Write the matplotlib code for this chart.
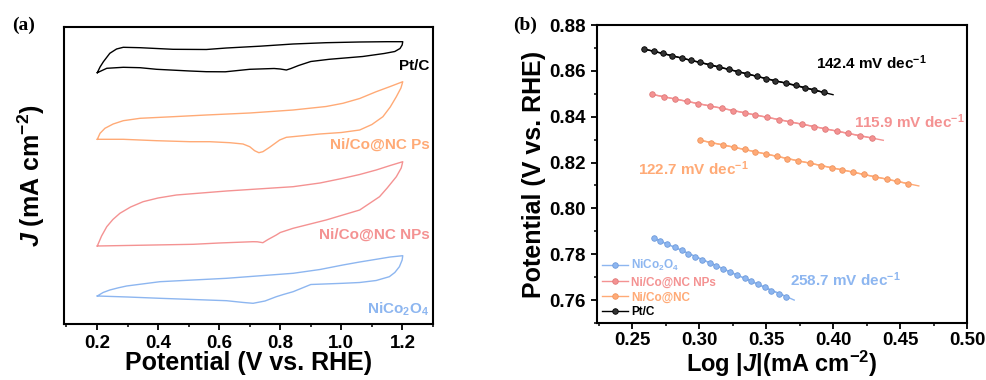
import matplotlib
matplotlib.use("Agg")
import matplotlib.pyplot as plt
from matplotlib.ticker import MultipleLocator

plt.rcParams['font.family'] = ['Liberation Sans', 'DejaVu Sans']
plt.rcParams['font.weight'] = 'bold'
plt.rcParams['mathtext.fontset'] = 'custom'
plt.rcParams['mathtext.rm'] = 'Liberation Sans:bold'
plt.rcParams['mathtext.bf'] = 'Liberation Sans:bold'
plt.rcParams['mathtext.it'] = 'Liberation Sans:italic:bold'

# colours
c_pt = 'black'
c_ps = '#FFAA76'
c_nps = '#F49292'
c_nico = '#8DB6F0'

# ---- (a) CV loops: potential (V) and J (arb. offset units) ----
ptc_v = [0.201, 0.210, 0.221, 0.242, 0.264, 0.286, 0.341, 0.449, 0.558, 0.624, 0.733, 0.842, 0.950, 1.059, 1.150, 1.201,
         1.199, 1.192, 1.175, 1.140, 1.070, 0.960, 0.900, 0.860, 0.835, 0.820, 0.800, 0.780, 0.700, 0.620, 0.558,
         0.504, 0.395, 0.341, 0.286, 0.232, 0.201]
ptc_j = [25.13, 25.70, 26.23, 27.07, 27.50, 27.67, 27.63, 27.47, 27.45, 27.60, 27.78, 28.00, 28.13, 28.20, 28.23, 28.23,
         27.90, 27.55, 27.25, 27.05, 26.75, 26.47, 26.25, 25.85, 25.55, 25.40, 25.50, 25.55, 25.47, 25.22, 25.23,
         25.30, 25.47, 25.63, 25.67, 25.57, 25.13]

ps_v = [0.201, 0.210, 0.226, 0.253, 0.286, 0.341, 0.449, 0.558, 0.700, 0.842, 0.950, 1.005, 1.060, 1.114, 1.160, 1.201,
        1.195, 1.180, 1.160, 1.136, 1.100, 1.060, 1.000, 0.929, 0.874, 0.820, 0.798, 0.765, 0.743, 0.730, 0.716,
        0.700, 0.678, 0.635, 0.569, 0.504, 0.395, 0.286, 0.201]
ps_j = [18.47, 19.07, 19.57, 20.00, 20.33, 20.57, 20.73, 20.90, 21.10, 21.40, 21.75, 22.07, 22.55, 23.23, 23.75, 24.23,
        23.60, 22.73, 21.70, 20.73, 19.95, 19.40, 19.15, 19.00, 18.83, 18.67, 18.40, 17.67, 17.23, 17.13, 17.33,
        17.73, 18.00, 18.13, 18.23, 18.23, 18.33, 18.47, 18.47]

nps_v = [0.201, 0.215, 0.232, 0.252, 0.275, 0.310, 0.351, 0.400, 0.460, 0.624, 0.842, 0.930, 1.005, 1.060, 1.114,
         1.160, 1.201, 1.196, 1.180, 1.150, 1.125, 1.060, 0.950, 0.842, 0.800, 0.787, 0.760, 0.743, 0.725, 0.711,
         0.600, 0.515, 0.350, 0.201]
nps_j = [7.80, 8.80, 9.73, 10.45, 11.07, 11.70, 12.23, 12.60, 12.90, 13.30, 13.73, 14.10, 14.57, 14.95, 15.40,
         15.85, 16.23, 15.60, 14.73, 13.60, 12.73, 11.40, 10.40, 9.57, 9.15, 8.90, 8.45, 8.13, 8.22, 8.23,
         8.10, 7.97, 7.88, 7.80]

nico_v = [0.201, 0.220, 0.242, 0.270, 0.297, 0.406, 0.624, 0.842, 0.930, 1.005, 1.060, 1.114, 1.160, 1.201,
          1.199, 1.190, 1.175, 1.157, 1.114, 1.060, 1.005, 0.900, 0.842, 0.810, 0.787, 0.750, 0.711, 0.680,
          0.624, 0.406, 0.300, 0.201]
nico_j = [2.80, 3.15, 3.40, 3.62, 3.80, 4.23, 4.57, 5.07, 5.45, 5.90, 6.20, 6.47, 6.70, 6.83,
          6.40, 5.73, 5.15, 4.73, 4.35, 4.15, 4.07, 3.95, 3.23, 2.95, 2.73, 2.30, 2.07, 2.15,
          2.33, 2.57, 2.70, 2.80]

# ---- (b) Tafel points ----
pt_x = [0.259, 0.266, 0.273, 0.280, 0.287, 0.294, 0.301, 0.308, 0.315, 0.322,
        0.329, 0.336, 0.343, 0.350, 0.357, 0.365, 0.372, 0.379, 0.386, 0.393]
pt_y = [0.8695, 0.8686, 0.8676, 0.8666, 0.8656, 0.8646, 0.8637, 0.8627, 0.8617, 0.8607,
        0.8597, 0.8587, 0.8576, 0.8566, 0.8556, 0.8547, 0.8537, 0.8527, 0.8517, 0.8506]
pt_fit_x = [0.259, 0.400]
pt_fit_y = [0.8695, 0.8496]

np_x = [0.265, 0.274, 0.282, 0.291, 0.299, 0.308, 0.317, 0.325, 0.334, 0.342,
        0.351, 0.360, 0.368, 0.377, 0.386, 0.394, 0.403, 0.411, 0.420, 0.429]
np_y = [0.8497, 0.8487, 0.8477, 0.8467, 0.8457, 0.8447, 0.8437, 0.8427, 0.8417, 0.8407,
        0.8397, 0.8387, 0.8377, 0.8367, 0.8357, 0.8347, 0.8337, 0.8327, 0.8317, 0.8307]
np_fit_x = [0.265, 0.4375]
np_fit_y = [0.8497, 0.8297]

nc_x = [0.301, 0.309, 0.318, 0.326, 0.334, 0.342, 0.350, 0.358, 0.366, 0.374,
        0.383, 0.391, 0.399, 0.407, 0.415, 0.423, 0.431, 0.440, 0.448, 0.456]
nc_y = [0.8297, 0.8287, 0.8277, 0.8267, 0.8257, 0.8247, 0.8237, 0.8227, 0.8217, 0.8207,
        0.8197, 0.8187, 0.8177, 0.8168, 0.8158, 0.8148, 0.8138, 0.8128, 0.8118, 0.8108]
nc_fit_x = [0.301, 0.464]
nc_fit_y = [0.8297, 0.8098]

no_x = [0.266, 0.271, 0.276, 0.282, 0.287, 0.292, 0.297, 0.302, 0.308, 0.313,
        0.318, 0.323, 0.328, 0.334, 0.339, 0.344, 0.349, 0.354, 0.360, 0.365]
no_y = [0.7871, 0.7857, 0.7844, 0.7830, 0.7817, 0.7803, 0.7790, 0.7776, 0.7763, 0.7749,
        0.7736, 0.7722, 0.7709, 0.7695, 0.7682, 0.7668, 0.7655, 0.7641, 0.7628, 0.7614]
no_fit_x = [0.266, 0.371]
no_fit_y = [0.7871, 0.7600]

fig = plt.figure(figsize=(9.87, 3.8), dpi=100)
ax1 = fig.add_axes([64/987, 1-324/380, 369/987, 297/380])
ax2 = fig.add_axes([597/987, 1-323/380, 370/987, 298/380])

# ---- panel (a) ----
ax1.plot(ptc_v, ptc_j, color=c_pt, lw=1.0)
ax1.plot(ps_v, ps_j, color=c_ps, lw=1.0)
ax1.plot(nps_v, nps_j, color=c_nps, lw=1.0)
ax1.plot(nico_v, nico_j, color=c_nico, lw=1.0)
ax1.set_xlim(0.092, 1.3)
ax1.set_ylim(0, 29.7)
ax1.xaxis.set_major_locator(MultipleLocator(0.2))
ax1.xaxis.set_minor_locator(MultipleLocator(0.1))
ax1.set_yticks([])
ax1.tick_params(axis='x', which='major', direction='out', length=4.5, width=1.3, labelsize=13.5)
ax1.tick_params(axis='x', which='minor', direction='out', length=2.5, width=1.1)
ax1.set_xlabel('Potential (V vs. RHE)', fontsize=18, fontweight='bold', labelpad=-1)
ax1.set_ylabel(r'$J$ (mA cm$^{-2}$)', fontsize=18, fontweight='bold', labelpad=12)
for s in ax1.spines.values():
    s.set_linewidth(1.5)
ax1.text(1.288, 25.8, 'Pt/C', color=c_pt, fontsize=11, ha='right', va='center')
ax1.text(1.288, 17.9, 'Ni/Co@NC Ps', color=c_ps, fontsize=11, ha='right', va='center')
ax1.text(1.288, 8.9, 'Ni/Co@NC NPs', color=c_nps, fontsize=11, ha='right', va='center')
ax1.text(1.288, 1.5, r'NiCo$_2$O$_4$', color=c_nico, fontsize=11, ha='right', va='center')
fig.text(12/987, 1-25/380, '(a)', fontsize=14, fontweight='bold', family='Liberation Serif', va='center')

# ---- panel (b) ----
mk = dict(marker='o', markersize=4, markeredgewidth=0.6)
ax2.plot(no_fit_x, no_fit_y, color=c_nico, lw=1.0)
ax2.plot(no_x, no_y, color=c_nico, lw=1.0, mfc=c_nico, mec='#6F9BDA', label=r'NiCo$_2$O$_4$', **mk)
ax2.plot(np_fit_x, np_fit_y, color=c_nps, lw=1.0)
ax2.plot(np_x, np_y, color=c_nps, lw=1.0, mfc=c_nps, mec='#E07A7A', label='Ni/Co@NC NPs', **mk)
ax2.plot(nc_fit_x, nc_fit_y, color=c_ps, lw=1.0)
ax2.plot(nc_x, nc_y, color=c_ps, lw=1.0, mfc=c_ps, mec='#EE9560', label='Ni/Co@NC', **mk)
ax2.plot(pt_fit_x, pt_fit_y, color=c_pt, lw=1.0)
ax2.plot(pt_x, pt_y, color=c_pt, lw=1.0, mfc='#333333', mec='black', label='Pt/C', **mk)
ax2.set_xlim(0.2238, 0.5)
ax2.set_ylim(0.75, 0.88)
ax2.xaxis.set_major_locator(MultipleLocator(0.05))
ax2.xaxis.set_minor_locator(MultipleLocator(0.025))
ax2.yaxis.set_major_locator(MultipleLocator(0.02))
ax2.yaxis.set_minor_locator(MultipleLocator(0.01))
ax2.tick_params(which='major', direction='out', length=4.5, width=1.3, labelsize=13.5)
ax2.tick_params(which='minor', direction='out', length=2.5, width=1.1)
ax2.tick_params(axis='x', which='major', pad=2)
ax2.set_xlabel(r'Log $|J|$(mA cm$^{-2}$)', fontsize=17, fontweight='bold', labelpad=-0.5)
ax2.set_ylabel('Potential (V vs. RHE)', fontsize=18, fontweight='bold', labelpad=2)
for s in ax2.spines.values():
    s.set_linewidth(1.5)
ax2.text(0.387, 0.8635, r'142.4 mV dec$^{-1}$', color=c_pt, fontsize=11, va='center')
ax2.text(0.4156, 0.8377, r'115.9 mV dec$^{-1}$', color=c_nps, fontsize=11, va='center')
ax2.text(0.2542, 0.8173, r'122.7 mV dec$^{-1}$', color=c_ps, fontsize=11, va='center')
ax2.text(0.3678, 0.7691, r'258.7 mV dec$^{-1}$', color=c_nico, fontsize=11, va='center')
ax2.legend(loc='lower left', frameon=False, fontsize=8.5, labelcolor='linecolor',
           handlelength=2.2, handletextpad=0.3, labelspacing=0.25, borderaxespad=0.1,
           borderpad=0.3, markerscale=1.0)
fig.text(513/987, 1-25/380, '(b)', fontsize=14, fontweight='bold', family='Liberation Serif', va='center')

fig.savefig('out.png', dpi=100)
